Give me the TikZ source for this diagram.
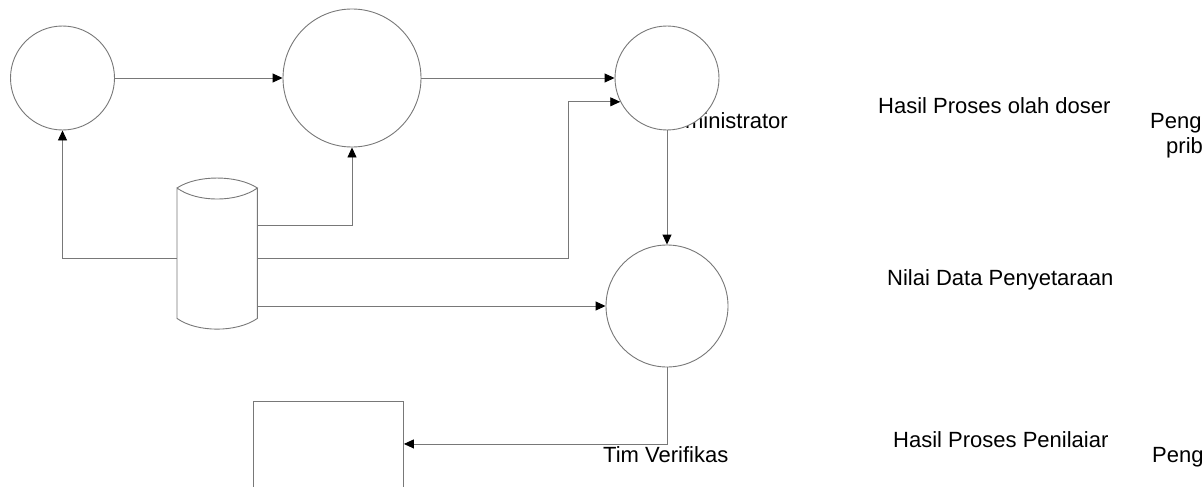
\documentclass[tikz,border=0pt]{standalone}
\usepackage{fontspec}
\setmainfont{Liberation Sans}
\usetikzlibrary{arrows.meta,calc}
\begin{document}
\begin{tikzpicture}[x=1pt,y=-1pt,
  line/.style={draw={rgb,255:red,120;green,120;blue,120}, line width=0.9pt},
  flow/.style={line, -{Triangle[length=10pt,width=9pt,fill=black,color=black]}},
  proc/.style={circle, line, fill=white, inner sep=0pt},
  lbl/.style={font=\fontsize{22}{26}\selectfont, inner sep=0pt, text=black}]
\useasboundingbox (0,0) rectangle (1202,487);
% texts
\node[lbl, anchor=base east] (tadm) at (788,128) {Administrator};
\node[lbl, anchor=base west] (thp1) at (878,113) {Hasil Proses olah doser};
\node[lbl, anchor=base west] (tpeng1) at (1150,128) {Peng};
\node[lbl, anchor=base west] (tprib) at (1166,153) {prib};
\node[lbl, anchor=base west] (tnilai) at (887,285) {Nilai Data Penyetaraan};
\node[lbl, anchor=base west] (thp2) at (893,447) {Hasil Proses Penilaiar};
\node[lbl, anchor=base west] (tpeng2) at (1152,462) {Peng};
\node[lbl, anchor=base west] (ttim) at (603,462) {Tim Verifikas};
% processes
\node[proc, minimum size=104pt] (c1) at (62.5,78) {};
\node[proc, minimum size=138pt] (c2) at (352,78) {};
\node[proc, minimum size=104pt] (c3) at (667,78) {};
\node[proc, minimum size=122pt] (c4) at (667,306) {};
% box
\node[line, draw, minimum width=150pt, minimum height=100pt, inner sep=0pt, anchor=north west] (box) at (253,401) {};
% data store (cylinder with lens-shaped top)
\node[minimum width=80pt, minimum height=130pt, inner sep=0pt, anchor=north west] (db) at (177,188) {};
\draw[line] (db.north west) .. controls (197,174.7) and (237,174.7) .. (db.north east)
  .. controls (237,202.7) and (197,202.7) .. (db.north west) -- (db.south west)
  .. controls (197,332.7) and (237,332.7) .. (db.south east) -- (db.north east);
\coordinate (dbL) at (db.west |- 0,258);
\coordinate (dbR1) at (db.east |- 0,225);
\coordinate (dbR2) at (db.east |- 0,258);
\coordinate (dbR3) at (db.east |- 0,306);
\coordinate (bend) at (568,258);
% connectors
\draw[flow] (c1.east) -- (c2.west);
\draw[flow] (c2.east) -- (c3.west);
\draw[flow] (dbL) -| (c1.south);
\draw[flow] (dbR1) -| (c2.south);
\draw[flow] (dbR2) -- (bend) |- (c3.207.5);
\draw[flow] (dbR3) -- (c4.west);
\draw[flow] (c3.south) -- (c4.north);
\draw[flow] (c4.south) |- ($(box.east)+(0,-7.5)$);
\end{tikzpicture}
\end{document}
